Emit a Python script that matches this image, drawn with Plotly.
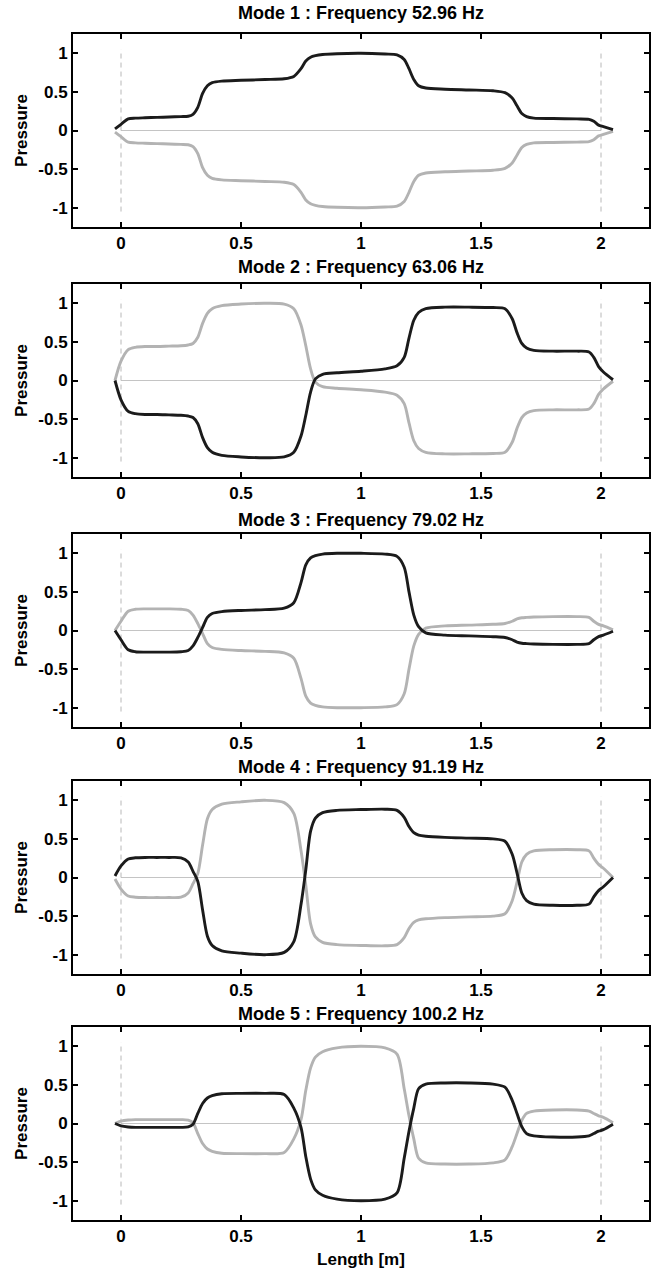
import plotly.graph_objects as go

# Shared positions along the tube (m)
length_m = [-0.025, 0.0, 0.03, 0.06, 0.1, 0.15, 0.2, 0.25, 0.28, 0.30, 0.32, 0.34, 0.36, 0.38,
            0.42, 0.5, 0.6, 0.68, 0.72, 0.75, 0.77, 0.79, 0.81, 0.84, 0.9, 1.0, 1.1, 1.15,
            1.18, 1.2, 1.22, 1.24, 1.27, 1.35, 1.45, 1.55, 1.6, 1.63, 1.65, 1.67, 1.69,
            1.72, 1.8, 1.9, 1.95, 1.97, 1.99, 2.01, 2.05]

titles = ["Mode 1 : Frequency 52.96 Hz", "Mode 2 : Frequency 63.06 Hz",
          "Mode 3 : Frequency 79.02 Hz", "Mode 4 : Frequency 91.19 Hz",
          "Mode 5 : Frequency 100.2 Hz"]

mode1_dark = [0.02, 0.08, 0.15, 0.16, 0.165, 0.17, 0.175, 0.18, 0.185, 0.21, 0.3, 0.48, 0.58, 0.62,
              0.64, 0.65, 0.66, 0.67, 0.7, 0.8, 0.9, 0.95, 0.97, 0.985, 0.995, 1.0, 0.99, 0.98,
              0.92, 0.8, 0.66, 0.58, 0.55, 0.535, 0.525, 0.515, 0.49, 0.42, 0.32, 0.22, 0.18,
              0.16, 0.155, 0.15, 0.145, 0.12, 0.07, 0.05, 0.01]
mode1_light = [-0.02, -0.08, -0.15, -0.16, -0.165, -0.17, -0.175, -0.18, -0.185, -0.21, -0.3, -0.48, -0.58, -0.62,
               -0.64, -0.65, -0.66, -0.67, -0.7, -0.8, -0.9, -0.95, -0.97, -0.985, -0.995, -1.0, -0.99, -0.98,
               -0.92, -0.8, -0.66, -0.58, -0.55, -0.535, -0.525, -0.515, -0.49, -0.42, -0.32, -0.22, -0.18,
               -0.16, -0.155, -0.15, -0.145, -0.12, -0.07, -0.05, -0.01]

mode2_dark = [0.0, -0.25, -0.4, -0.43, -0.44, -0.44, -0.445, -0.45, -0.46, -0.48, -0.56, -0.74, -0.87, -0.93,
              -0.97, -0.99, -1.0, -0.99, -0.93, -0.72, -0.45, -0.15, 0.02, 0.08, 0.1, 0.12, 0.15, 0.19,
              0.3, 0.55, 0.78, 0.88, 0.93, 0.95, 0.95, 0.945, 0.93, 0.8, 0.62, 0.48, 0.42,
              0.39, 0.38, 0.38, 0.37, 0.3, 0.18, 0.11, 0.01]
mode2_light = [0.0, 0.25, 0.4, 0.43, 0.44, 0.44, 0.445, 0.45, 0.46, 0.48, 0.56, 0.74, 0.87, 0.93,
               0.97, 0.99, 1.0, 0.99, 0.93, 0.72, 0.45, 0.15, -0.02, -0.08, -0.1, -0.12, -0.15, -0.19,
               -0.3, -0.55, -0.78, -0.88, -0.93, -0.95, -0.95, -0.945, -0.93, -0.8, -0.62, -0.48, -0.42,
               -0.39, -0.38, -0.38, -0.37, -0.3, -0.18, -0.11, -0.01]

mode3_dark = [0.0, -0.12, -0.25, -0.275, -0.28, -0.28, -0.28, -0.275, -0.26, -0.2, -0.09, 0.04, 0.17, 0.22,
              0.245, 0.26, 0.27, 0.29, 0.36, 0.62, 0.85, 0.94, 0.97, 0.99, 1.0, 1.0, 0.99, 0.96,
              0.82, 0.5, 0.2, 0.05, -0.03, -0.06, -0.07, -0.08, -0.09, -0.12, -0.15, -0.165, -0.17,
              -0.175, -0.18, -0.18, -0.17, -0.12, -0.08, -0.06, -0.01]
mode3_light = [0.0, 0.12, 0.25, 0.275, 0.28, 0.28, 0.28, 0.275, 0.26, 0.2, 0.09, -0.04, -0.17, -0.22,
               -0.245, -0.26, -0.27, -0.29, -0.36, -0.62, -0.85, -0.94, -0.97, -0.99, -1.0, -1.0, -0.99, -0.96,
               -0.82, -0.5, -0.2, -0.05, 0.03, 0.06, 0.07, 0.08, 0.09, 0.12, 0.15, 0.165, 0.17,
               0.175, 0.18, 0.18, 0.17, 0.12, 0.08, 0.06, 0.01]

mode4_dark = [0.02, 0.15, 0.24, 0.255, 0.26, 0.26, 0.26, 0.255, 0.2, 0.08, -0.05, -0.42, -0.76, -0.88,
              -0.95, -0.98, -1.0, -0.97, -0.83, -0.35, 0.1, 0.6, 0.77, 0.84, 0.87, 0.88, 0.885, 0.87,
              0.78, 0.66, 0.58, 0.55, 0.535, 0.52, 0.51, 0.5, 0.47, 0.3, 0.06, -0.2, -0.3,
              -0.345, -0.36, -0.36, -0.345, -0.25, -0.17, -0.12, 0.0]
mode4_light = [-0.02, -0.15, -0.24, -0.255, -0.26, -0.26, -0.26, -0.255, -0.2, -0.08, 0.05, 0.42, 0.76, 0.88,
               0.95, 0.98, 1.0, 0.97, 0.83, 0.35, -0.1, -0.6, -0.77, -0.84, -0.87, -0.88, -0.885, -0.87,
               -0.78, -0.66, -0.58, -0.55, -0.535, -0.52, -0.51, -0.5, -0.47, -0.3, -0.06, 0.2, 0.3,
               0.345, 0.36, 0.36, 0.345, 0.25, 0.17, 0.12, 0.0]

mode5_dark = [0.0, -0.03, -0.045, -0.05, -0.05, -0.05, -0.05, -0.05, -0.045, -0.01, 0.13, 0.26, 0.33, 0.36,
              0.385, 0.39, 0.39, 0.375, 0.2, -0.05, -0.43, -0.72, -0.86, -0.93, -0.98, -1.0, -0.98, -0.9,
              -0.45, -0.1, 0.2, 0.45, 0.51, 0.525, 0.525, 0.51, 0.47, 0.3, 0.13, -0.04, -0.13,
              -0.16, -0.175, -0.175, -0.16, -0.13, -0.1, -0.08, -0.01]
mode5_light = [0.0, 0.03, 0.045, 0.05, 0.05, 0.05, 0.05, 0.05, 0.045, 0.01, -0.13, -0.26, -0.33, -0.36,
               -0.385, -0.39, -0.39, -0.375, -0.2, 0.05, 0.43, 0.72, 0.86, 0.93, 0.98, 1.0, 0.98, 0.9,
               0.45, 0.1, -0.2, -0.45, -0.51, -0.525, -0.525, -0.51, -0.47, -0.3, -0.13, 0.04, 0.13,
               0.16, 0.175, 0.175, 0.16, 0.13, 0.1, 0.08, 0.01]

dark_series = [mode1_dark, mode2_dark, mode3_dark, mode4_dark, mode5_dark]
light_series = [mode1_light, mode2_light, mode3_light, mode4_light, mode5_light]

x_ticks = [0, 0.5, 1, 1.5, 2]
x_tick_text = ["0", "0.5", "1", "1.5", "2"]
y_ticks = [-1, -0.5, 0, 0.5, 1]
y_tick_text = ["-1", "-0.5", "0", "0.5", "1"]

W, H = 655, 1272
LEFT, RIGHT = 73, 649
TOPS = [34, 284, 534, 781, 1027]
TITLE_Y = [13, 267, 520, 767, 1014]
PH = 193
FONT = "Liberation Sans, Arial, Helvetica, sans-serif"
DARK = "#1b1b1b"
LIGHT = "#b3b3b3"
FS = 17

fig = go.Figure()
layout = dict(width=W, height=H, margin=dict(l=0, r=0, t=0, b=0),
              paper_bgcolor="white", plot_bgcolor="white", showlegend=False,
              font=dict(family=FONT, size=FS, color="black"), template="none")
annotations = []

for i in range(5):
    n = "" if i == 0 else str(i + 1)
    xa, ya = "x" + n, "y" + n
    top = TOPS[i]
    y0 = 1 - (top + PH) / H
    y1 = 1 - top / H
    layout["xaxis" + n] = dict(
        domain=[LEFT / W, RIGHT / W], range=[-0.2, 2.2], anchor=ya,
        tickvals=x_ticks, ticktext=x_tick_text, ticks="inside", ticklen=5, tickwidth=2,
        tickcolor="black", showline=True, linewidth=2, linecolor="black", mirror="allticks",
        showgrid=False, zeroline=False, automargin=False,
        tickfont=dict(family=FONT, size=FS, color="black", weight="bold"),
    )
    layout["yaxis" + n] = dict(
        domain=[y0, y1], range=[-1.25, 1.25], anchor=xa,
        tickvals=y_ticks, ticktext=y_tick_text, ticks="inside", ticklen=5, tickwidth=2,
        tickcolor="black", showline=True, linewidth=2, linecolor="black", mirror="allticks",
        showgrid=False, zeroline=False, automargin=False,
        tickfont=dict(family=FONT, size=FS, color="black", weight="bold"),
        title=dict(text="Pressure", standoff=6,
                   font=dict(family=FONT, size=FS, color="black", weight="bold")),
    )
    # zero reference line and tube-end markers
    fig.add_trace(go.Scatter(x=[0, 2], y=[0, 0], mode="lines", xaxis=xa, yaxis=ya,
                             line=dict(color="#c4c4c4", width=1), hoverinfo="skip"))
    for xe in (0, 2):
        fig.add_trace(go.Scatter(x=[xe, xe], y=[-1.05, 1.05], mode="lines", xaxis=xa, yaxis=ya,
                                 line=dict(color="#b8b8b8", width=1, dash="5px,4px"),
                                 hoverinfo="skip"))
    fig.add_trace(go.Scatter(x=length_m, y=light_series[i], mode="lines", xaxis=xa, yaxis=ya,
                             line=dict(color=LIGHT, width=2.9, shape="spline", smoothing=0.8)))
    fig.add_trace(go.Scatter(x=length_m, y=dark_series[i], mode="lines", xaxis=xa, yaxis=ya,
                             line=dict(color=DARK, width=2.9, shape="spline", smoothing=0.8)))
    annotations.append(dict(text="<b>" + titles[i] + "</b>", xref="paper", yref="paper",
                            x=(LEFT + RIGHT) / 2 / W, y=1 - TITLE_Y[i] / H,
                            xanchor="center", yanchor="middle", showarrow=False,
                            font=dict(family=FONT, size=18, color="black")))

layout["xaxis5"]["title"] = dict(text="Length [m]", standoff=8,
                                 font=dict(family=FONT, size=FS, color="black", weight="bold"))
layout["annotations"] = annotations
fig.update_layout(**layout)
fig.write_html("out.html", config={"displayModeBar": False},
               post_script="document.body.style.margin='0px';document.body.style.overflow='hidden';")
